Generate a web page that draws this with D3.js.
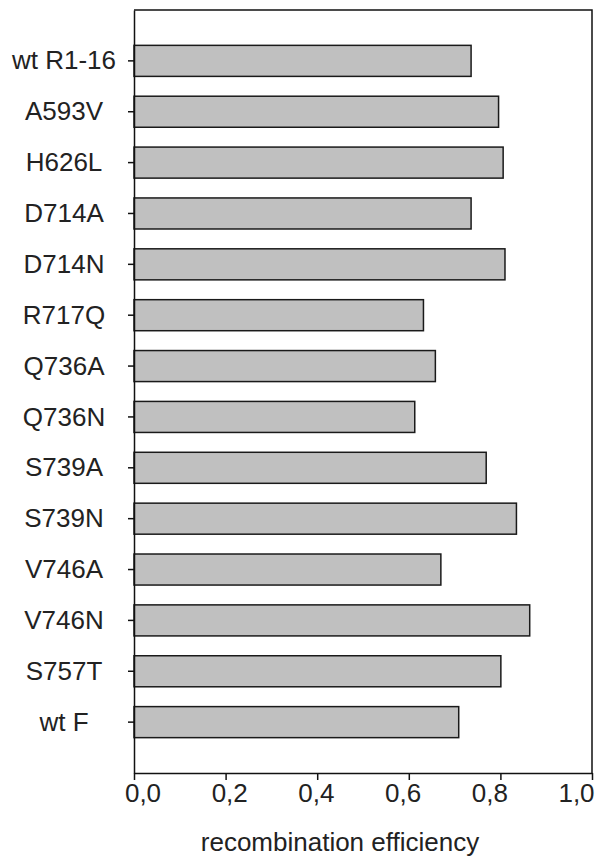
<!DOCTYPE html>
<html>
<head>
<meta charset="utf-8">
<script src="https://cdn.jsdelivr.net/npm/d3@7"></script>
<style>
  html, body { margin: 0; padding: 0; background: #fff; }
  svg { display: block; }
  text { font-family: "Liberation Sans", Arial, Helvetica, sans-serif; fill: #222; }
</style>
</head>
<body>
<div id="chart"></div>
<script>
const categories = ["wt R1-16", "A593V", "H626L", "D714A", "D714N", "R717Q", "Q736A",
                    "Q736N", "S739A", "S739N", "V746A", "V746N", "S757T", "wt F"];
const values = [0.736, 0.796, 0.806, 0.736, 0.810, 0.632, 0.658,
                0.613, 0.769, 0.835, 0.670, 0.864, 0.801, 0.709];
const xTicks = [0, 0.2, 0.4, 0.6, 0.8, 1.0];
const xTitle = "recombination efficiency";

const W = 596, H = 857;
const m = { left: 134, right: 4, top: 10, bottom: 84 };

const svg = d3.select("#chart").append("svg").attr("width", W).attr("height", H);

const x = d3.scaleLinear().domain([0, 1]).range([m.left, W - m.right]);
// tick labels in the original sit slightly inside the plot width
const xLabel = d3.scaleLinear().domain([0, 1]).range([142.5, 576]);
const y = d3.scaleBand().domain(categories).range([m.top, H - m.bottom])
  .paddingInner(0.39).paddingOuter(0.695);

// frame (top and right)
svg.append("path")
  .attr("d", `M${x(0)},${m.top}H${x(1)}V${H - m.bottom}`)
  .attr("fill", "none").attr("stroke", "#111").attr("stroke-width", 1.5);

// bars
svg.append("g").selectAll("rect").data(categories).join("rect")
  .attr("x", x(0))
  .attr("y", d => y(d))
  .attr("width", (d, i) => x(values[i]) - x(0))
  .attr("height", y.bandwidth())
  .attr("fill", "#c0c0c0")
  .attr("stroke", "#1a1a1a")
  .attr("stroke-width", 1.5);

// x axis
const xAxis = svg.append("g")
  .attr("transform", `translate(0,${H - m.bottom})`)
  .call(d3.axisBottom(x).tickValues(xTicks).tickSize(7).tickSizeOuter(0)
    .tickFormat(d => d3.format(".1f")(d).replace(".", ",")));
xAxis.select(".domain").attr("stroke", "#111").attr("stroke-width", 1.5);
xAxis.selectAll(".tick line").attr("stroke", "#111").attr("stroke-width", 1.5);
xAxis.selectAll(".tick text").attr("font-size", 26).attr("y", 11).attr("dy", "0.71em")
  .attr("x", d => xLabel(d) - x(d))
  .style("font-family", "'Liberation Sans', Arial, sans-serif").attr("fill", "#222");

// y axis
const yAxis = svg.append("g")
  .attr("transform", `translate(${m.left},0)`)
  .call(d3.axisLeft(y).tickSize(6).tickSizeOuter(0));
yAxis.select(".domain").attr("stroke", "#111").attr("stroke-width", 1.5);
yAxis.selectAll(".tick line").attr("stroke", "#111").attr("stroke-width", 1.5);
yAxis.selectAll(".tick text").attr("font-size", 26)
  .attr("text-anchor", "middle").attr("x", 64 - m.left).attr("dy", "0.33em")
  .style("font-family", "'Liberation Sans', Arial, sans-serif").attr("fill", "#222");

// x title
svg.append("text")
  .attr("x", 340)
  .attr("y", 851)
  .attr("text-anchor", "middle")
  .attr("font-size", 26)
  .text(xTitle);
</script>
</body>
</html>
